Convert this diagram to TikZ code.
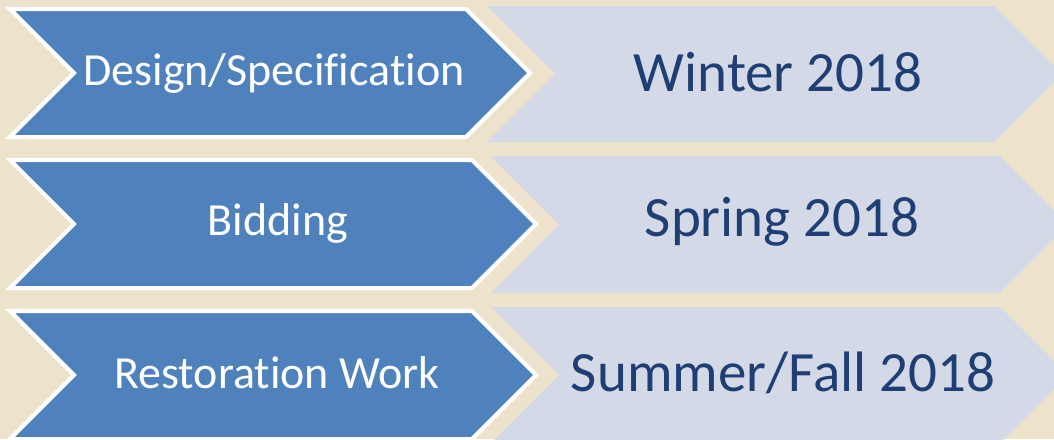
\documentclass[tikz,border=0pt]{standalone}
\usepackage{fontspec}
\setmainfont{Carlito}[Ligatures=NoCommon]
\definecolor{sfondo}{HTML}{EDE3CC}
\definecolor{fase}{HTML}{4F81BD}
\definecolor{periodo}{HTML}{D3D9E6}
\definecolor{testoPeriodo}{HTML}{1F3F74}
\begin{document}
\begin{tikzpicture}[x=1pt,y=-1pt]


\tikzset{faseBox/.style={fill=fase, draw=white, line width=4pt, line join=miter},}
\tikzset{periodoBox/.style={fill=periodo, draw=none},}
\tikzset{faseText/.style={inner sep=0pt, text=white, font=\fontsize{46}{50}\selectfont},}
\tikzset{periodoText/.style={inner sep=0pt, text=testoPeriodo, font=\fontsize{57}{60}\selectfont},}

	\fill[sfondo] (0,0) rectangle (1054,439);
	\useasboundingbox (0,0) rectangle (1054,439);

	% right chevrons
	\fill[periodoBox] (487,6) -- (994,6) -- (1062,74) -- (994,142) -- (487,142) -- (555,74) -- cycle;
	\fill[periodoBox] (491,156) -- (1000,156) -- (1068,224.5) -- (1000,293) -- (491,293) -- (559,224.5) -- cycle;
	\fill[periodoBox] (491,307) -- (1000,307) -- (1068,375) -- (1000,443) -- (491,443) -- (559,375) -- cycle;

	% left chevrons
	\draw[faseBox] (10,9) -- (466,9) -- (530,73) -- (466,137) -- (10,137) -- (74,73) -- cycle;
	\draw[faseBox] (10,160) -- (472,160) -- (536,224) -- (472,288) -- (10,288) -- (74,224) -- cycle;
	\draw[faseBox] (10,311) -- (472,311) -- (536,375) -- (472,439) -- (10,439) -- (74,375) -- cycle;

	\draw
		(274,73) node[faseText] (f1) {Design/Specification}
		(278,223) node[faseText] (f2) {Bidding}
		(277,373) node[faseText] (f3) {Restoration Work}
		(778,72) node[periodoText] (p1) {Winter 2018}
		(782,222) node[periodoText] (p2) {Spring 2018}
		(783,373) node[periodoText] (p3) {Summer/Fall 2018};

\end{tikzpicture}
\end{document}
